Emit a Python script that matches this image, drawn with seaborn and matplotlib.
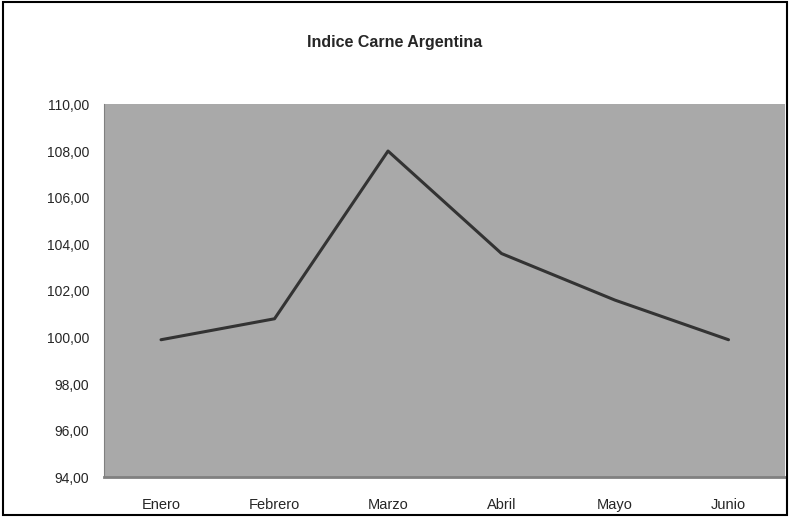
import matplotlib
matplotlib.use("Agg")
import matplotlib.pyplot as plt
import seaborn as sns
import pandas as pd

# Data
meses = ["Enero", "Febrero", "Marzo", "Abril", "Mayo", "Junio"]
indice = [99.9, 100.8, 108.0, 103.6, 101.6, 99.9]
y_ticks = [94, 96, 98, 100, 102, 104, 106, 108, 110]
titulo = "Indice Carne Argentina"

df = pd.DataFrame({"mes": meses, "indice": indice})

sns.set_style("white")
plt.rcParams["font.family"] = ["Liberation Sans", "DejaVu Sans"]

fig = plt.figure(figsize=(7.9, 5.17), dpi=100)
ax = fig.add_axes([0.132, 0.077, 0.862, 0.721])
ax.set_facecolor("#a9a9a9")

x_pos = list(range(len(meses)))
sns.lineplot(x=x_pos, y=df["indice"], ax=ax, color="#333333", linewidth=2.2)

ax.set_xlim(-0.5, len(meses) - 0.5)
ax.set_ylim(94, 110)
ax.set_yticks(y_ticks)
ax.set_yticklabels([f"{v:.2f}".replace(".", ",") for v in y_ticks], fontsize=10)
ax.set_xticks(x_pos)
ax.set_xticklabels(meses, fontsize=10.5)
ax.set_xticks([i - 0.5 for i in range(len(meses) + 1)], minor=True)
ax.tick_params(axis="x", which="major", length=0, pad=15)
ax.tick_params(axis="x", which="minor", length=5, color="#808080", width=1)
ax.tick_params(axis="y", length=5, color="#808080", width=1, pad=6)
ax.set_xlabel("")
ax.set_ylabel("")

for side in ["top", "right"]:
    ax.spines[side].set_visible(False)
ax.spines["left"].set_color("#808080")
ax.spines["bottom"].set_color("#808080")
ax.spines["bottom"].set_linewidth(2)

fig.text(0.5, 0.918, titulo, ha="center", va="center", fontsize=11.5, fontweight="bold")

# Frame around the whole chart
fig.patches.append(plt.Rectangle((0.004, 0.004), 0.992, 0.992, transform=fig.transFigure,
                                 fill=False, edgecolor="black", linewidth=1.5))

fig.savefig("out.png", dpi=100)
